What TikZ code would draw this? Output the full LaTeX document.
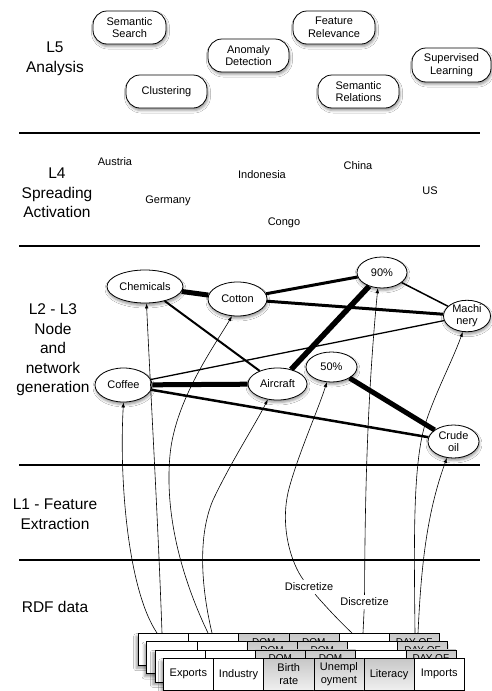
\documentclass[tikz,border=0pt]{standalone}
\usepackage{fontspec}
\setmainfont{Liberation Sans}
\usetikzlibrary{shapes.geometric,arrows.meta,shadows.blur}
\begin{document}
\begin{tikzpicture}[x=1pt,y=-1pt,
  lvl/.style={font=\fontsize{15.5}{19.5}\selectfont, align=center, inner sep=0pt},
  smalltxt/.style={font=\fontsize{11}{12.5}\selectfont, align=center},
  pillbox/.style={smalltxt, draw=black, line width=0.8pt, fill=white, rounded corners=14pt,
     minimum height=33pt, inner sep=0pt,
     blur shadow={shadow xshift=1pt, shadow yshift=-2.5pt, shadow blur radius=2.5pt}},
  ellnode/.style={smalltxt, font=\fontsize{11}{12}\selectfont, ellipse, draw=black, line width=0.8pt, fill=white, inner sep=0pt,
     blur shadow={shadow xshift=0.5pt, shadow yshift=-2.5pt, shadow blur radius=2.5pt}},
  country/.style={smalltxt, inner sep=1pt},
  sepline/.style={line width=1.3pt},
  link/.style={line width=#1},
  feedarr/.style={line width=0.6pt, -{Latex[length=5pt,width=3.6pt]}},
  disc/.style={smalltxt, inner sep=3pt},
  layerbox/.style={fill=white, minimum width=301pt, minimum height=32pt, inner sep=0pt,
     blur shadow={shadow xshift=-2pt, shadow yshift=-3pt, shadow blur radius=2.5pt}},
  cellw/.style={draw=black, line width=0.6pt, fill=white, minimum width=50.17pt, minimum height=32pt, inner sep=0pt, smalltxt},
  cellg/.style={draw=black, line width=0.6pt, top color=black!22, bottom color=black!6, minimum width=50.17pt, minimum height=32pt, inner sep=0pt, smalltxt},
  peek/.style={font=\fontsize{10}{11}\selectfont, anchor=north, inner sep=0pt, yshift=-5pt}
]
\fill[white] (0,0) rectangle (492,691);
\useasboundingbox (0,0) rectangle (492,691);

% separators
\draw[sepline] (19,133) -- (480,133);
\draw[sepline] (19,246) -- (480,246);
\draw[sepline] (19,465) -- (480,465);
\draw[sepline] (19,560) -- (480,560);

% layer labels
\node[lvl] (l5) at (55,59) {L5\\Analysis};
\node[lvl] (l4) at (57,193) {L4\\Spreading\\Activation};
\node[lvl] (l23) at (53,350) {L2 - L3\\Node\\and\\network\\generation};
\node[lvl] (l1) at (55,514) {L1 - Feature\\Extraction};
\node[lvl] (rdf) at (55,607) {RDF data};

% L5 analysis boxes
\node[pillbox, minimum width=73pt] (ss) at (129.5,27.5) {Semantic\\Search};
\node[pillbox, minimum width=81pt] (ad) at (248.5,55.5) {Anomaly\\Detection};
\node[pillbox, minimum width=82pt] (fr) at (334,27.5) {Feature\\Relevance};
\node[pillbox, minimum width=81pt] (cl) at (166.5,91.5) {Clustering};
\node[pillbox, minimum width=81pt] (sr) at (358.5,91.5) {Semantic\\Relations};
\node[pillbox, minimum width=79pt, minimum height=34pt] (sl) at (451.5,65) {Supervised\\Learning};

% L4 countries
\node[country] (austria) at (115,162) {Austria};
\node[country] (germany) at (168,201) {Germany};
\node[country] (indonesia) at (262,175) {Indonesia};
\node[country] (congo) at (284,223) {Congo};
\node[country] (china) at (358,166) {China};
\node[country] (us) at (430,191) {US};

% L2-L3 nodes
\node[ellnode, minimum width=76pt, minimum height=33pt] (chem) at (145,286.5) {Chemicals};
\node[ellnode, minimum width=59pt, minimum height=34pt] (cot) at (237.5,299) {Cotton};
\node[ellnode, minimum width=50pt, minimum height=31pt] (p90) at (382,272.5) {90\%};
\node[ellnode, minimum width=47pt, minimum height=31pt] (mach) at (467,316) {Machi\\nery};
\node[ellnode, minimum width=57pt, minimum height=34pt] (cof) at (123.5,385) {Coffee};
\node[ellnode, minimum width=59pt, minimum height=32pt] (air) at (277.5,384) {Aircraft};
\node[ellnode, minimum width=51pt, minimum height=30pt] (p50) at (331.5,367) {50\%};
\node[ellnode, minimum width=51pt, minimum height=33pt] (crude) at (453.5,441.5) {Crude\\oil};

% network edges
\draw[link=5pt] (chem) -- (cot);
\draw[link=3pt] (cot) -- (p90);
\draw[link=3pt] (cot) -- (mach);
\draw[link=1.5pt] (p90) -- (mach);
\draw[link=2pt] (chem) -- (air);
\draw[link=1.3pt] (cof) -- (mach);
\draw[link=5pt] (cof) -- (air);
\draw[link=2.5pt] (cof) -- (crude);
\draw[link=5.5pt] (air) -- (p90);
\draw[link=5pt] (p50) -- (crude);

% RDF table: three back layers
\foreach \k in {0,1,2}{
  \pgfmathsetmacro{\lx}{138+8.33*\k}
  \pgfmathsetmacro{\ty}{633+8.33*\k}
  \node[layerbox, anchor=north west] (lay\k) at (\lx,\ty) {};
  \foreach \j/\s in {0/cellw,1/cellw,2/cellg,3/cellg,4/cellw,5/cellg}{
    \pgfmathsetmacro{\cx}{\lx+50.17*\j}
    \node[\s, anchor=north west] (c\k\j) at (\cx,\ty) {};
  }
  \node[peek] (ta\k) at (c\k2.north) {DOM};
  \node[peek] (tb\k) at (c\k3.north) {DOM};
  \node[peek] (tc\k) at (c\k5.north) {DAY OF};
}
% front layer
\node[layerbox, anchor=north west] (lay3) at (163,658) {};
\node[cellw, anchor=north west] (f0) at (163,658) {Exports};
\node[cellw, anchor=north west] (f1) at (213.17,658) {Industry};
\node[cellg, anchor=north west] (f2) at (263.34,658) {Birth\\rate};
\node[cellg, anchor=north west] (f3) at (313.51,658) {Unempl\\oyment};
\node[cellg, anchor=north west] (f4) at (363.68,658) {Literacy};
\node[cellw, anchor=north west] (f5) at (413.85,658) {Imports};

% feature-extraction arrows
\coordinate (s1) at (157,633);
\coordinate (s2) at (162,633);
\coordinate (s3) at (208,633);
\coordinate (s4) at (212,633);
\coordinate (s5) at (352,633);
\coordinate (s6) at (363,633);
\coordinate (s7) at (415,633);
\coordinate (s8) at (418,633);
\node[disc] (d1) at (309,587) {Discretize};
\node[disc] (d2) at (364.5,602) {Discretize};

\draw[feedarr] (s1) .. controls (128,590) and (119,480) .. (cof.south);
\draw[feedarr] (s2) .. controls (158,520) and (151,400) .. (chem.-85);
\draw[feedarr] (s3) .. controls (185,585) and (164,520) .. (170,455)
                    .. controls (175,400) and (215,345) .. (cot.-108);
\draw[feedarr] (s4) .. controls (203,595) and (196,540) .. (213,500)
                    .. controls (232,460) and (255,425) .. (air.-122);
\draw[line width=0.6pt] (s5) .. controls (336,618) and (320,600) .. (d1);
\draw[feedarr] (d1) .. controls (292,565) and (278,525) .. (290,485)
                    .. controls (300,450) and (318,410) .. (p50.-107);
\draw[line width=0.6pt] (s6) -- (d2);
\draw[feedarr] (d2) .. controls (365,500) and (367,400) .. (p90.-105);
\draw[feedarr] (s7) .. controls (414,540) and (413,470) .. (424,428)
                    .. controls (434,395) and (452,362) .. (mach.-105);
\draw[feedarr] (s8) .. controls (421,570) and (426,515) .. (crude.-112);
\end{tikzpicture}
\end{document}
